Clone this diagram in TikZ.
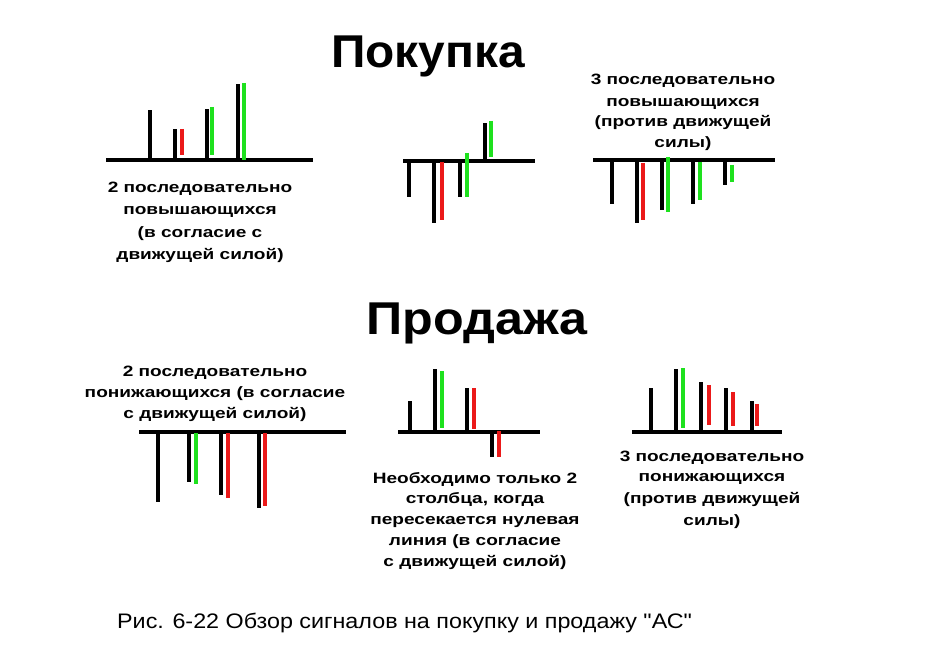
\documentclass[tikz,border=0pt]{standalone}
\usepackage{fontspec}
\setmainfont{Liberation Sans}
\newfontfamily\lblfont[FakeStretch=1.27]{Liberation Sans}
\newfontfamily\ttlfont[FakeStretch=1.04]{Liberation Sans}
\newfontfamily\capfont[FakeStretch=1.11]{Liberation Sans}
\definecolor{barG}{RGB}{30,225,30}
\definecolor{barR}{RGB}{235,25,25}
\begin{document}
\begin{tikzpicture}[x=1pt,y=-1pt,
  axisline/.style={line width=3.2pt,black},
  bk/.style={line width=3.4pt,black},
  gr/.style={line width=3.8pt,barG},
  rd/.style={line width=3.8pt,barR},
  lbl/.style={font=\lblfont\bfseries\fontsize{15}{18}\selectfont,anchor=base,inner sep=0pt},
  ttl/.style={font=\ttlfont\bfseries\fontsize{46}{50}\selectfont,anchor=base,inner sep=0pt},
  capt/.style={font=\capfont\fontsize{21}{24}\selectfont,anchor=base west,inner sep=0pt}]
\useasboundingbox (0,0) rectangle (929,658);
\fill[white] (0,0) rectangle (929,658);

% titles
\node[ttl] (buy) at (428,68) {Покупка};
\node[ttl,xscale=1.05] (sell) at (477,334) {Продажа};
\node[capt] (caption) at (117,628) {Рис. 6-22 Обзор сигналов на покупку и продажу "АС"};

% labels
\foreach \t/\yy [count=\i] in {{2 последовательно}/192,{повышающихся}/214,{(в согласие с}/237,{движущей силой)}/259}
  \node[lbl] (tl\i) at (200,\yy) {\t};
\foreach \t/\yy [count=\i] in {{3 последовательно}/85,{повышающихся}/107,{(против движущей}/127,{силы)}/148}
  \node[lbl] (tr\i) at (683,\yy) {\t};
\foreach \t/\yy [count=\i] in {{2 последовательно}/376,{понижающихся (в согласие}/397,{с движущей силой)}/418}
  \node[lbl] (bl\i) at (215,\yy) {\t};
\foreach \t/\yy [count=\i] in {{Необходимо только 2}/483,{столбца, когда}/503,{пересекается нулевая}/524,{линия (в согласие}/545,{с движущей силой)}/566}
  \node[lbl] (bm\i) at (475,\yy) {\t};
\foreach \t/\yy [count=\i] in {{3 последовательно}/461,{понижающихся}/481,{(против движущей}/503,{силы)}/525}
  \node[lbl] (br\i) at (712,\yy) {\t};

% top-left chart
\draw[axisline] (106,160) -- (313,160);
\foreach \x/\y in {150/110,175/129,207/109,238/84} \draw[bk] (\x,160) -- (\x,\y);
\draw[rd] (182,129) -- (182,155);
\draw[gr] (212,107) -- (212,155);
\draw[gr] (244,83) -- (244,160);

% top-middle chart
\draw[axisline] (403,161) -- (535,161);
\foreach \x/\y in {409/197,434/223,460/197,485/123} \draw[bk] (\x,161) -- (\x,\y);
\draw[rd] (442,162) -- (442,220);
\draw[gr] (467,153) -- (467,197);
\draw[gr] (491,121) -- (491,157);

% top-right chart
\draw[axisline] (593,160) -- (775,160);
\foreach \x/\y in {612/204,637/223,662/210,693/204,725/185} \draw[bk] (\x,160) -- (\x,\y);
\draw[rd] (643,163) -- (643,220);
\draw[gr] (668,157) -- (668,212);
\draw[gr] (700,162) -- (700,200);
\draw[gr] (732,165) -- (732,182);

% bottom-left chart
\draw[axisline] (139,432) -- (346,432);
\foreach \x/\y in {158/502,189/482,221/495,259/508} \draw[bk] (\x,432) -- (\x,\y);
\draw[gr] (196,433) -- (196,484);
\draw[rd] (228,433) -- (228,498);
\draw[rd] (265,433) -- (265,506);

% bottom-middle chart
\draw[axisline] (398,432) -- (540,432);
\foreach \x/\y in {410/401,435/369,467/388,492/457} \draw[bk] (\x,432) -- (\x,\y);
\draw[gr] (442,371) -- (442,428);
\draw[rd] (474,388) -- (474,429);
\draw[rd] (499,431) -- (499,457);

% bottom-right chart
\draw[axisline] (632,432) -- (782,432);
\foreach \x/\y in {651/388,676/369,701/382,726/388,752/401} \draw[bk] (\x,432) -- (\x,\y);
\draw[gr] (683,368) -- (683,428);
\draw[rd] (709,385) -- (709,425);
\draw[rd] (733,392) -- (733,426);
\draw[rd] (757,404) -- (757,426);
\end{tikzpicture}
\end{document}
